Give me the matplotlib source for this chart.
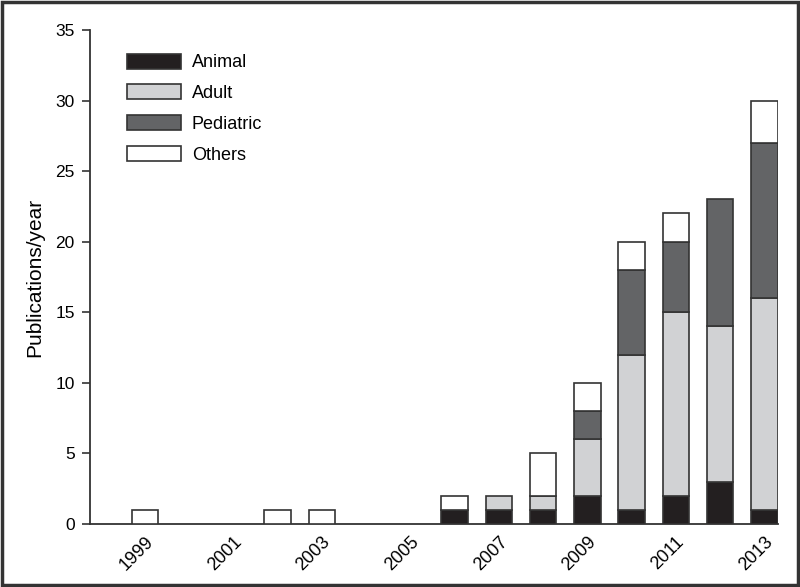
import matplotlib
matplotlib.use("Agg")
import matplotlib.pyplot as plt
import numpy as np
from matplotlib.patches import Rectangle

years = [1999, 2000, 2001, 2002, 2003, 2004, 2005, 2006, 2007, 2008, 2009, 2010, 2011, 2012, 2013]
animal =    [0, 0, 0, 0, 0, 0, 0, 1, 1, 1, 2, 1, 2, 3, 1]
adult =     [0, 0, 0, 0, 0, 0, 0, 0, 1, 1, 4, 11, 13, 11, 15]
pediatric = [0, 0, 0, 0, 0, 0, 0, 0, 0, 0, 2, 6, 5, 9, 11]
others =    [1, 0, 0, 1, 1, 0, 0, 1, 0, 3, 2, 2, 2, 0, 3]
series_names = ["Animal", "Adult", "Pediatric", "Others"]
tick_years = [1999, 2001, 2003, 2005, 2007, 2009, 2011, 2013]

plt.rcParams['font.family'] = ['Liberation Sans', 'DejaVu Sans']

fig = plt.figure(figsize=(8, 5.87), dpi=100)
ax = fig.add_axes([0.1125, 0.1073, 0.8600, 0.8416])

colors = ["#231f20", "#d1d2d4", "#636466", "#ffffff"]
edge = "#333333"
x = np.array(years)
bottom = np.zeros(len(years))
for name, vals, c in zip(series_names, [animal, adult, pediatric, others], colors):
    v = np.array(vals, dtype=float)
    mask = v > 0
    ax.bar(x[mask], v[mask], width=0.6, bottom=bottom[mask], color=c,
           edgecolor=edge, linewidth=1.2, label=name, zorder=3)
    bottom += v

ax.set_xlim(1997.76, 2013.31)
ax.set_ylim(0, 35)
ax.set_yticks(range(0, 36, 5))
ax.set_xticks(tick_years)
ax.set_xticklabels([str(t) for t in tick_years], rotation=45, ha='right',
                   rotation_mode='anchor', fontsize=13)
ax.tick_params(axis='x', length=0, pad=7)
ax.tick_params(axis='y', length=6, width=1.2, labelsize=12.5, color="#333333", pad=5)
for s in ['top', 'right']:
    ax.spines[s].set_visible(False)
for s in ['left', 'bottom']:
    ax.spines[s].set_color("#333333")
    ax.spines[s].set_linewidth(1.3)
ax.set_ylabel("Publications/year", fontsize=15, labelpad=8)

leg = ax.legend(loc='upper left', bbox_to_anchor=(0.03, 0.985), frameon=False,
                fontsize=13, handlelength=3.0, handleheight=0.9,
                labelspacing=0.72, handletextpad=0.6)

fig.patches.append(Rectangle((0.002, 0.003), 0.996, 0.994, transform=fig.transFigure,
                             fill=False, edgecolor="#333333", linewidth=2.5))

fig.savefig("out.png", dpi=100)
